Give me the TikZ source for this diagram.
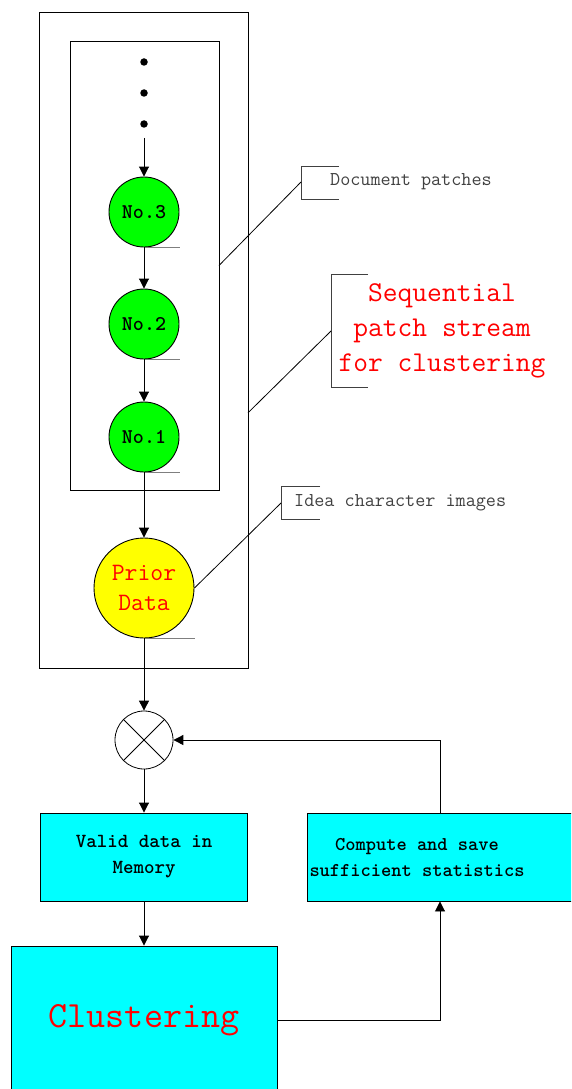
\documentclass[tikz,border=0pt]{standalone}
\usepackage{fontspec}
\usepackage{xcolor,tikz}
\usetikzlibrary{arrows.meta,positioning,calc}
\definecolor{notegray}{HTML}{404040}
\definecolor{tickgray}{HTML}{7F7F7F}
\definecolor{patchgreen}{RGB}{0,255,0}
\definecolor{priorfill}{RGB}{255,255,0}
\definecolor{blockfill}{RGB}{0,255,255}
\definecolor{alert}{RGB}{255,0,0}
\newcommand{\fs}[2]{\fontsize{#1}{#2}\selectfont}
\tikzset{frame/.style={draw=black,line width=0.9pt,inner sep=0pt,outer sep=0pt,anchor=north west},
  patch/.style={circle,draw,line width=0.9pt,fill=patchgreen,minimum size=70pt,inner sep=0pt,
  font=\ttfamily\bfseries\fs{21}{24}},
  prior/.style={circle,draw,line width=0.9pt,fill=priorfill,minimum size=100pt,inner sep=0pt,
  align=center,text=alert,font=\ttfamily\fs{25}{30}},
  mixer/.style={circle,draw,line width=0.8pt,minimum size=58pt,inner sep=0pt},
  block/.style={draw,line width=0.9pt,fill=blockfill,align=center,inner sep=0pt,
  font=\ttfamily\bfseries\fs{20}{26}},
  dot/.style={circle,fill=black,inner sep=0pt,minimum size=7.5pt},
  tick/.style={draw=tickgray,line width=0.9pt},
  bracket/.style={draw=notegray,line width=0.9pt},
  note/.style={anchor=west,inner sep=0pt,text=notegray,font=\ttfamily\fs{19.6}{24}},
  arrow/.style={-{Triangle[length=10pt,width=10pt]},line width=0.9pt}}
\begin{document}
\begin{tikzpicture}[x=1pt,y=-1pt]
\useasboundingbox (0,0) rectangle (571,1089);
\clip (0,0) rectangle (571,1089);
% frames
\node[frame,minimum width=209pt,minimum height=656pt] (stream) at (39,12) {};
\node[frame,minimum width=149pt,minimum height=449pt] (patches) at (70,41) {};
% incoming patches
\node[dot] (d1) at (144,62) {};
\node[dot] (d2) at (144,93) {};
\node[dot] (d3) at (144,124) {};
\coordinate (feed) at (144,138);
\node[patch] (n3) at (144,212) {No.3};
\node[patch] (n2) at (144,324) {No.2};
\node[patch] (n1) at (144,437) {No.1};
\node[prior] (prior) at (144,588) {Prior\\Data};
\node[mixer] (mixer) at (144,740) {};
\draw[line width=0.8pt] (mixer.north west)--(mixer.south east) (mixer.north east)--(mixer.south west);
% process blocks
\node[block,minimum width=207pt,minimum height=88pt] (valid) at (144,857) {Valid data in\\Memory};
\node[block,minimum width=266pt,minimum height=88pt] (stats) at (440,857) {};
\node[align=center,inner sep=0pt,font=\ttfamily\bfseries\fs{19.5}{26}] (statstext) at (417,857)
  {Compute and save\\sufficient statistics};
\node[block,minimum width=266pt,minimum height=148pt,text=alert,font=\ttfamily\fs{37}{44}] (cluster) at (144,1020) {Clustering};
% underlines below the circles
\draw[tick] (n3.south)--++(36,0);
\draw[tick] (n2.south)--++(36,0);
\draw[tick] (n1.south)--++(36,0);
\draw[tick] (prior.south)--++(51,0);
% flow
\draw[arrow] (feed)--(n3);
\draw[arrow] (n3)--(n2);
\draw[arrow] (n2)--(n1);
\draw[arrow] (n1)--(prior);
\draw[arrow] (prior)--(mixer);
\draw[arrow] (mixer)--(valid);
\draw[arrow] (valid)--(cluster);
\draw[arrow] (cluster.east)-|(stats.south);
\draw[arrow] (stats.north)|-(mixer.east);
% callouts
\coordinate (docpin) at (301,182);
\coordinate (seqpin) at (331,331);
\coordinate (ideapin) at (281,503);
\draw[bracket] ($(docpin)+(38,-16)$)--++(-38,0)--++(0,33)--++(38,0);
\draw[bracket] ($(seqpin)+(37,-57)$)--++(-37,0)--++(0,113)--++(37,0);
\draw[bracket] ($(ideapin)+(39,-17)$)--++(-39,0)--++(0,33)--++(39,0);
\draw[line width=0.8pt] (patches.east)--(docpin);
\draw[line width=0.8pt] ($(stream.north east)!0.611!(stream.south east)$)--(seqpin);
\draw[line width=0.8pt] (prior.east)--(ideapin);
\node[note] (docnote) at (330,182) {Document patches};
\node[note] (ideanote) at (294,503) {Idea character images};
\node[align=center,inner sep=0pt,text=alert,font=\ttfamily\fs{28.7}{35}] (seqnote) at (442,331)
  {Sequential\\patch stream\\for clustering};
\end{tikzpicture}
\end{document}
